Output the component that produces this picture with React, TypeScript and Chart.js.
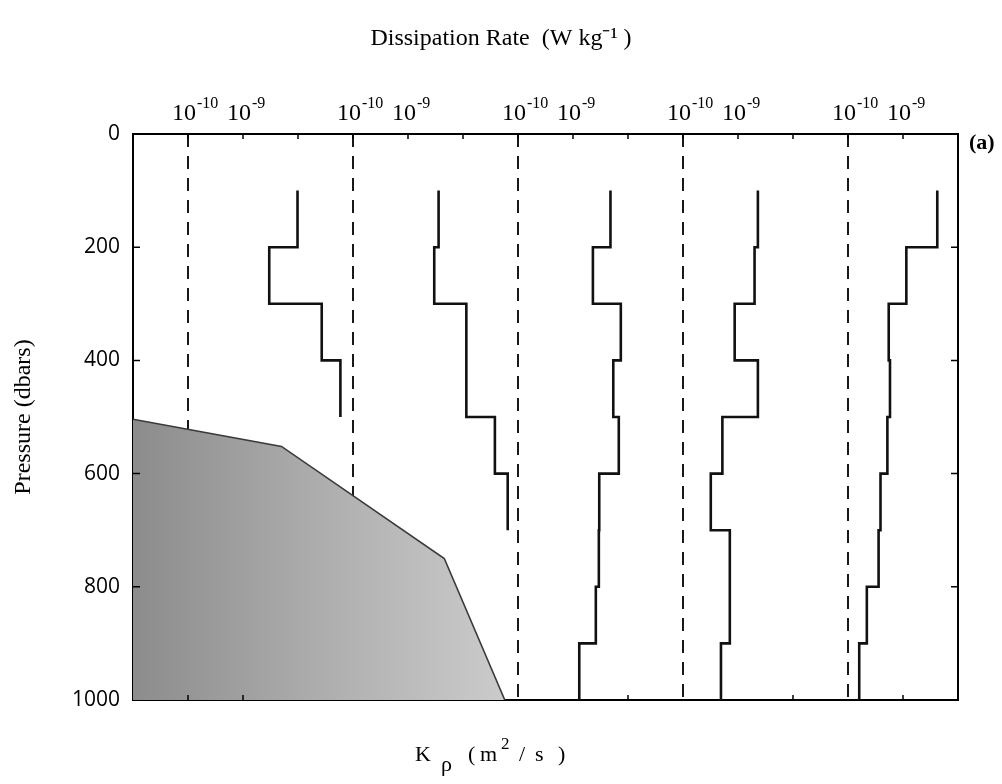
import React, { useEffect, useRef } from "react";
import { Chart, registerables } from "chart.js";

Chart.register(...registerables);

// ---- Data ----
// Pressure bins (dbar); each station's profile starts at 100 dbar
const BIN_TOP = 100;
const BIN_SIZE = 100;

// Dissipation rate (W/kg) per 100-dbar bin, for the five stations (left to right)
const eps1 = [9.8e-9, 3.0e-9, 2.7e-8, 5.9e-8];
const eps2 = [3.6e-9, 3.0e-9, 1.15e-8, 1.15e-8, 3.8e-8, 6.5e-8];
const eps3 = [4.8e-9, 2.3e-9, 7.4e-9, 5.4e-9, 6.8e-9, 3.0e-9, 2.95e-9, 2.6e-9, 1.3e-9];
const eps4 = [2.3e-9, 2.0e-9, 8.7e-10, 2.3e-9, 5.2e-10, 3.2e-10, 7.1e-10, 7.1e-10, 4.9e-10];
const eps5 = [4.2e-9, 1.15e-9, 5.5e-10, 5.8e-10, 5.2e-10, 3.9e-10, 3.6e-10, 2.2e-10, 1.6e-10];
const STATIONS = [eps1, eps2, eps3, eps4, eps5];

// Each station occupies 3 decades of the shared axis (10^-11 .. 10^-8)
const STATION_DECADE_OFFSET = [0, 3, 6, 9, 12];
const PANEL_LOG_MIN = -11;
const REFERENCE_EPS = 1e-10; // dashed reference line
const AXIS_DECADES = 15;

// Top tick labels: [base, exponent] at decade index within each station
const TOP_LABELS: { [k: number]: [string, string] } = {
  1: ["10", "-10"],
  2: ["10", "-9"],
};

// Shaded region boundary (shared-axis decades, pressure dbar)
const shadeX = [0, 2.7, 5.66, 6.76];
const shadeP = [504, 552, 750, 1000];

// Pressure axis
const P_MIN = 0;
const P_MAX = 1000;
const P_STEP = 200;
const P_INNER_TICKS = [200, 400, 600, 800];
const BOTTOM_TICKS = [1, 2, 9, 12, 14];

const SERIF = "'Liberation Serif', 'Times New Roman', serif";
const SANS = "'Open Sans', 'Liberation Sans', sans-serif";

function toAxis(eps: number, station: number) {
  return Math.log10(eps) - PANEL_LOG_MIN + STATION_DECADE_OFFSET[station];
}

function profilePoints(eps: number[], station: number) {
  const pts: { x: number; y: number }[] = [];
  eps.forEach((e, i) => {
    const x = toAxis(e, station);
    pts.push({ x, y: BIN_TOP + i * BIN_SIZE });
    pts.push({ x, y: BIN_TOP + (i + 1) * BIN_SIZE });
  });
  return pts;
}

const decorations = {
  id: "decorations",
  afterDatasetsDraw(chart: any) {
    const { ctx, chartArea: a, scales, width } = chart;
    const xs = scales.x;
    const ys = scales.y;
    ctx.save();
    // inward ticks
    ctx.strokeStyle = "#000";
    ctx.lineWidth = 1.5;
    ctx.beginPath();
    for (let k = 1; k < AXIS_DECADES; k++) {
      const px = xs.getPixelForValue(k);
      ctx.moveTo(px, a.top);
      ctx.lineTo(px, a.top + 5);
    }
    for (const v of BOTTOM_TICKS) {
      const px = xs.getPixelForValue(v);
      ctx.moveTo(px, a.bottom);
      ctx.lineTo(px, a.bottom - 5);
    }
    for (const v of P_INNER_TICKS) {
      const py = ys.getPixelForValue(v);
      ctx.moveTo(a.left, py);
      ctx.lineTo(a.left + 7, py);
      ctx.moveTo(a.right, py);
      ctx.lineTo(a.right - 7, py);
    }
    ctx.stroke();

    ctx.fillStyle = "#000";
    ctx.textBaseline = "alphabetic";

    // top tick labels: 10 with superscript exponent
    for (let k = 0; k <= AXIS_DECADES; k++) {
      const lab = TOP_LABELS[k % 3];
      if (!lab) continue;
      const px = xs.getPixelForValue(k);
      ctx.font = `24px ${SERIF}`;
      ctx.textAlign = "right";
      ctx.fillText(lab[0], px + 8, a.top - 14);
      ctx.font = `16px ${SERIF}`;
      ctx.textAlign = "left";
      ctx.fillText(lab[1], px + 9, a.top - 26);
    }

    // panel label
    ctx.font = `bold 22px ${SERIF}`;
    ctx.textAlign = "left";
    ctx.textBaseline = "middle";
    ctx.fillText("(a)", a.right + 11, a.top + 9);

    // bottom axis title: K_rho (m^2 / s)
    ctx.textBaseline = "alphabetic";
    ctx.textAlign = "left";
    const x0 = width / 2 - 86;
    const base = a.bottom + 61;
    const parts: [string, number, number, number][] = [
      ["K", 0, 0, 22],
      ["\u03C1", 26, 10, 22],
      ["(", 53, 0, 22],
      ["m", 65, 0, 22],
      ["2", 86, -12, 17],
      ["/", 104, 0, 22],
      ["s", 120, 0, 22],
      [")", 143, 0, 22],
    ];
    for (const [t, dx, dy, size] of parts) {
      ctx.font = `${size}px ${SERIF}`;
      ctx.fillText(t, x0 + dx, base + dy);
    }
    ctx.restore();
  },
};

export default function App() {
  const ref = useRef<HTMLCanvasElement>(null);

  useEffect(() => {
    if (!ref.current) return;
    Chart.defaults.color = "#000";

    const profileSets = STATIONS.map((eps, s) => ({
      label: `Station ${s + 1}`,
      data: profilePoints(eps, s),
      showLine: true,
      borderColor: "#111",
      borderWidth: 2.6,
      pointRadius: 0,
      borderJoinStyle: "miter" as const,
      fill: false,
    }));

    const shadeSet = {
      label: "shade",
      data: shadeX.map((x, i) => ({ x, y: shadeP[i] })),
      showLine: true,
      borderColor: "#3a3a3a",
      borderWidth: 1.6,
      pointRadius: 0,
      fill: { value: P_MAX },
      backgroundColor: (c: any) => {
        const ch = c.chart;
        const a = ch.chartArea;
        if (!a) return "#aaa";
        const xEnd = ch.scales.x.getPixelForValue(shadeX[shadeX.length - 1]);
        const g = ch.ctx.createLinearGradient(a.left, 0, xEnd, 0);
        g.addColorStop(0, "#8c8c8c");
        g.addColorStop(0.5, "#adadad");
        g.addColorStop(1, "#cbcbcb");
        return g;
      },
    };

    const dashedSets = STATIONS.map((_, s) => ({
      label: `ref ${s + 1}`,
      data: [
        { x: toAxis(REFERENCE_EPS, s), y: P_MIN },
        { x: toAxis(REFERENCE_EPS, s), y: P_MAX },
      ],
      showLine: true,
      borderColor: "#000",
      borderWidth: 1.8,
      borderDash: [13, 9],
      pointRadius: 0,
      fill: false,
    }));

    const chart = new Chart(ref.current, {
      type: "scatter",
      data: { datasets: [...profileSets, shadeSet, ...dashedSets] as any },
      options: {
        animation: false,
        responsive: false,
        layout: { padding: 0 },
        plugins: {
          legend: { display: false },
          tooltip: { enabled: false },
          title: {
            display: true,
            text: "Dissipation Rate  (W kg\u207B\u00B9 )",
            color: "#000",
            font: { family: SERIF, size: 24, weight: "normal" },
            padding: { top: 16, bottom: 0 },
          },
        },
        scales: {
          x: {
            type: "linear",
            position: "top",
            min: 0,
            max: AXIS_DECADES,
            afterFit: (s: any) => {
              s.height = 81.2;
            },
            grid: { drawOnChartArea: false, drawTicks: false },
            border: { display: true, color: "#000", width: 2 },
            ticks: { display: false, stepSize: 1 },
          },
          x2: {
            type: "linear",
            position: "bottom",
            min: 0,
            max: AXIS_DECADES,
            afterFit: (s: any) => {
              s.height = 76;
            },
            grid: { drawOnChartArea: false, drawTicks: false },
            border: { display: true, color: "#000", width: 2 },
            ticks: { display: false },
          },
          y: {
            type: "linear",
            position: "left",
            reverse: true,
            min: P_MIN,
            max: P_MAX,
            afterFit: (s: any) => {
              s.width = 125;
            },
            grid: { drawOnChartArea: false, drawTicks: false },
            border: { display: true, color: "#000", width: 2 },
            ticks: {
              stepSize: P_STEP,
              padding: 13,
              color: "#000",
              font: { family: SANS, size: 21 },
              callback: (v: any) => String(v),
            },
            title: {
              display: true,
              text: "Pressure (dbars)",
              color: "#000",
              font: { family: SERIF, size: 24 },
              padding: { top: 1, bottom: 0 },
            },
          },
          y2: {
            type: "linear",
            position: "right",
            reverse: true,
            min: P_MIN,
            max: P_MAX,
            afterFit: (s: any) => {
              s.width = 36;
            },
            grid: { drawOnChartArea: false, drawTicks: false },
            border: { display: true, color: "#000", width: 2 },
            ticks: { display: false },
          },
        },
      } as any,
      plugins: [decorations],
    });

    return () => chart.destroy();
  }, []);

  return (
    <div style={{ width: 986, height: 768 }}>
      <canvas ref={ref} width={986} height={768} style={{ display: "block", width: 986, height: 768 }} />
    </div>
  );
}
